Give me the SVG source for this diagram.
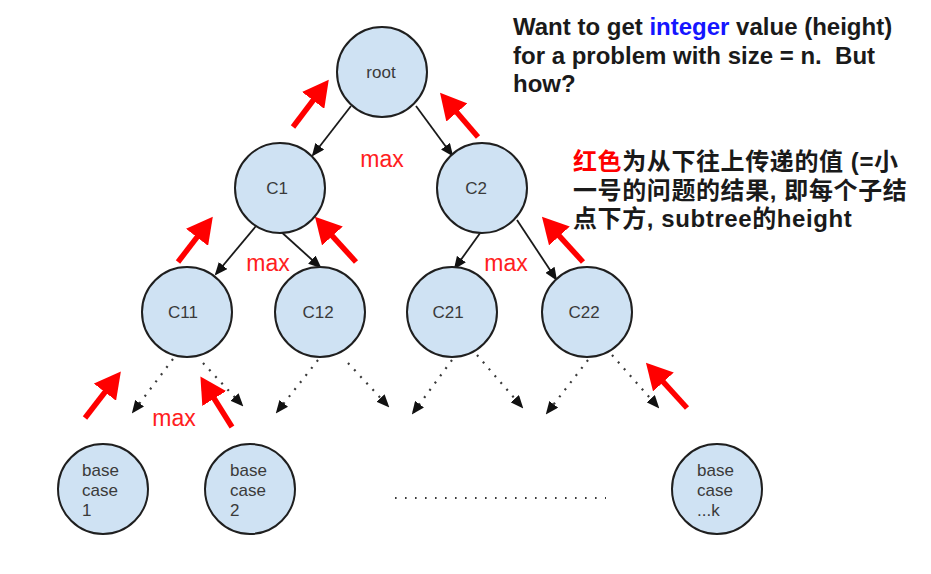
<svg xmlns="http://www.w3.org/2000/svg" width="931" height="574" viewBox="0 0 931 574">
<style>
.node{fill:#cfe2f3;stroke:#1f1f1f;stroke-width:2}
.lbl{font-family:"Liberation Sans",Arial,sans-serif;font-size:17px;fill:#3a3a3a}
.mid{text-anchor:middle}
.max{font-family:"Liberation Sans",Arial,sans-serif;font-size:23px;fill:#ff2020;text-anchor:middle}
.solid{stroke:#1a1a1a;stroke-width:1.8;fill:none;marker-end:url(#bh)}
.dot{stroke:#3a3a3a;stroke-width:2.2;fill:none;stroke-dasharray:2 7;marker-end:url(#bh)}
.red{stroke:#ff0000;stroke-width:5.5;fill:none;marker-end:url(#rh)}
.note{font-family:"Liberation Sans","Noto Sans CJK SC",Arial,sans-serif;font-size:24px;font-weight:bold;fill:#1a1a1a}
.cn{letter-spacing:0.6px}
</style>
<defs>
<marker id="bh" markerUnits="userSpaceOnUse" viewBox="0 0 13 11" refX="11" refY="5.5" markerWidth="13" markerHeight="11" orient="auto">
<path d="M0,0 L13,5.5 L0,11 z" fill="#111"/>
</marker>
<marker id="rh" markerUnits="userSpaceOnUse" viewBox="0 0 26 28" refX="3" refY="14" markerWidth="26" markerHeight="28" orient="auto">
<path d="M0,0 L26,14 L0,28 z" fill="#ff0000"/>
</marker>
</defs>

<g id="connectors">
<line class="solid" x1="351" y1="106" x2="313" y2="155"/>
<line class="solid" x1="416" y1="106" x2="452" y2="155"/>
<line class="solid" x1="256" y1="226" x2="216" y2="274"/>
<line class="solid" x1="278" y1="229" x2="320" y2="267"/>
<line class="solid" x1="483" y1="229" x2="455" y2="268"/>
<line class="solid" x1="517" y1="220" x2="556" y2="279"/>
<line class="dot" x1="173" y1="359" x2="133" y2="412"/>
<line class="dot" x1="203" y1="363" x2="242" y2="405"/>
<line class="dot" x1="318" y1="360" x2="277" y2="412"/>
<line class="dot" x1="348" y1="363" x2="388" y2="406"/>
<line class="dot" x1="452" y1="360" x2="413" y2="413"/>
<line class="dot" x1="477" y1="355" x2="522" y2="407"/>
<line class="dot" x1="588" y1="360" x2="547" y2="413"/>
<line class="dot" x1="612" y1="355" x2="658" y2="407"/>
<line x1="395" y1="498" x2="606" y2="498" stroke="#3a3a3a" stroke-width="2" stroke-dasharray="1.6 8.4"/>
<line class="red" x1="293" y1="127" x2="314.9" y2="98"/>
<line class="red" x1="478" y1="137" x2="455" y2="110.2"/>
<line class="red" x1="178" y1="262" x2="198.8" y2="234.9"/>
<line class="red" x1="356" y1="262" x2="330.4" y2="233.8"/>
<line class="red" x1="583" y1="262" x2="557.4" y2="233.8"/>
<line class="red" x1="85" y1="418" x2="106.8" y2="389.8"/>
<line class="red" x1="232" y1="427" x2="212.6" y2="396"/>
<line class="red" x1="687" y1="408" x2="661.4" y2="379.8"/>
</g>

<g id="root"><circle class="node" cx="382" cy="72" r="45"/><text class="lbl mid" x="381" y="78">root</text></g>
<g id="c1"><circle class="node" cx="280" cy="188" r="45"/><text class="lbl mid" x="277" y="194">C1</text></g>
<g id="c2"><circle class="node" cx="482" cy="188" r="45"/><text class="lbl mid" x="476" y="194">C2</text></g>
<g id="c11"><circle class="node" cx="187" cy="312" r="45"/><text class="lbl mid" x="183" y="318">C11</text></g>
<g id="c12"><circle class="node" cx="320" cy="312" r="45"/><text class="lbl mid" x="318" y="318">C12</text></g>
<g id="c21"><circle class="node" cx="452" cy="312" r="45"/><text class="lbl mid" x="448" y="318">C21</text></g>
<g id="c22"><circle class="node" cx="587" cy="312" r="45"/><text class="lbl mid" x="584" y="318">C22</text></g>
<g id="base1"><circle class="node" cx="103" cy="489" r="45"/><text class="lbl" x="82" y="476">base<tspan x="82" y="496">case</tspan><tspan x="82" y="516">1</tspan></text></g>
<g id="base2"><circle class="node" cx="250" cy="489" r="45"/><text class="lbl" x="230" y="476">base<tspan x="230" y="496">case</tspan><tspan x="230" y="516">2</tspan></text></g>
<g id="basek"><circle class="node" cx="717" cy="489" r="45"/><text class="lbl" x="697" y="476">base<tspan x="697" y="496">case</tspan><tspan x="697" y="516">...k</tspan></text></g>

<g id="max-labels">
<text class="max" x="382" y="167">max</text>
<text class="max" x="268" y="271">max</text>
<text class="max" x="506" y="271">max</text>
<text class="max" x="174" y="426">max</text>
</g>

<g id="note-top">
<text class="note" x="513" y="35">Want to get <tspan fill="#1515ff">integer</tspan> value (height)</text>
<text class="note" x="513" y="63.5" xml:space="preserve">for a problem with size = n.  But</text>
<text class="note" x="513" y="92">how?</text>
</g>
<g id="note-cn">
<text class="note cn" x="573" y="170"><tspan fill="#ff0000">红色</tspan>为从下往上传递的值 (=小</text>
<text class="note cn" x="573" y="199">一号的问题的结果, 即每个子结</text>
<text class="note cn" x="573" y="227">点下方, subtree的height</text>
</g>
</svg>
